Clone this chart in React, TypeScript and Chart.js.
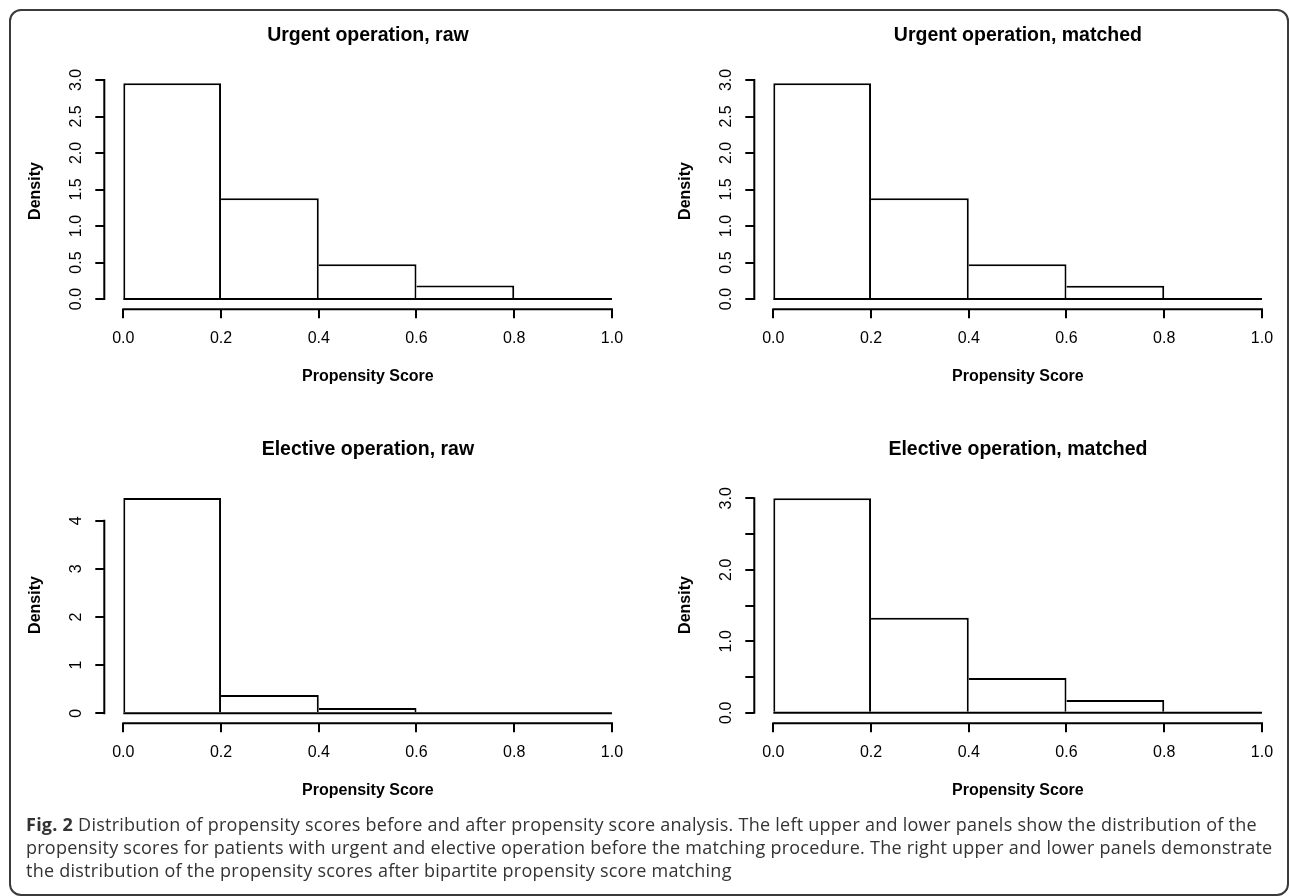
import React, { useEffect, useRef } from 'react';
import { Chart, registerables } from 'chart.js';

Chart.register(...registerables);
Chart.defaults.font.family = '"Liberation Sans", Arial, Helvetica, sans-serif';
Chart.defaults.color = '#000';

// ---- data ----
const binEdges = [0, 0.2, 0.4, 0.6, 0.8, 1.0];
const xTicks = [0, 0.2, 0.4, 0.6, 0.8, 1.0];
const xTickLabels = ['0.0', '0.2', '0.4', '0.6', '0.8', '1.0'];

const urgentRawDensity = [2.955, 1.38, 0.475, 0.185, 0];
const urgentMatchedDensity = [2.955, 1.38, 0.475, 0.183, 0];
const electiveRawDensity = [4.47, 0.38, 0.11, 0, 0];
const electiveMatchedDensity = [3.0, 1.33, 0.485, 0.18, 0];

const halfStepTicks = [0, 0.5, 1, 1.5, 2, 2.5, 3];
const halfStepLabels = ['0.0', '0.5', '1.0', '1.5', '2.0', '2.5', '3.0'];
const sparseHalfStepLabels = ['0.0', '', '1.0', '', '2.0', '', '3.0'];
const unitTicks = [0, 1, 2, 3, 4];
const unitLabels = ['0', '1', '2', '3', '4'];

const panelTitles = [
  'Urgent operation, raw',
  'Urgent operation, matched',
  'Elective operation, raw',
  'Elective operation, matched',
];
const xAxisTitle = 'Propensity Score';
const yAxisTitle = 'Density';

const captionLines = [
  'Distribution of propensity scores before and after propensity score analysis. The left upper and lower panels show the distribution of the',
  'propensity scores for patients with urgent and elective operation before the matching procedure. The right upper and lower panels demonstrate',
  'the distribution of the propensity scores after bipartite propensity score matching',
];

// ---- layout ----
const W = 640;
const H = 414;
const AREA_LEFT = 104.3;
const AREA_RIGHT = 631.5;
const AREA_BOTTOM = 309.3;

type PanelCfg = {
  title: string;
  values: number[];
  yTicks: number[];
  yLabels: string[];
  yMin: number;
  yMax: number;
  yTickPad: number;
  left: number;
  top: number;
};

const panels: PanelCfg[] = [
  { title: panelTitles[0], values: urgentRawDensity, yTicks: halfStepTicks, yLabels: halfStepLabels, yMin: -0.141, yMax: 3.1, yTickPad: 7.5, left: 0, top: 0 },
  { title: panelTitles[1], values: urgentMatchedDensity, yTicks: halfStepTicks, yLabels: halfStepLabels, yMin: -0.141, yMax: 3.1, yTickPad: 7.5, left: 650, top: 0 },
  { title: panelTitles[2], values: electiveRawDensity, yTicks: unitTicks, yLabels: unitLabels, yMin: -0.2077, yMax: 4.706, yTickPad: 14.5, left: 0, top: 414 },
  { title: panelTitles[3], values: electiveMatchedDensity, yTicks: halfStepTicks, yLabels: sparseHalfStepLabels, yMin: -0.147, yMax: 3.162, yTickPad: 7.5, left: 650, top: 414 },
];

function makeAxesPlugin(cfg: PanelCfg) {
  return {
    id: 'rAxes',
    afterDatasetsDraw(chart: any) {
      const { ctx, chartArea } = chart;
      const x = chart.scales.x;
      const y = chart.scales.y;
      ctx.save();
      ctx.strokeStyle = '#000';
      ctx.lineWidth = 2;
      ctx.lineCap = 'square';
      ctx.beginPath();
      // x axis line spanning first..last tick
      ctx.moveTo(x.getPixelForValue(xTicks[0]), chartArea.bottom);
      ctx.lineTo(x.getPixelForValue(xTicks[xTicks.length - 1]), chartArea.bottom);
      // y axis line spanning first..last tick
      ctx.moveTo(chartArea.left, y.getPixelForValue(cfg.yTicks[0]));
      ctx.lineTo(chartArea.left, y.getPixelForValue(cfg.yTicks[cfg.yTicks.length - 1]));
      ctx.stroke();
      // histogram baseline (zero-height bins included)
      ctx.lineCap = 'butt';
      ctx.beginPath();
      ctx.moveTo(x.getPixelForValue(binEdges[0]), y.getPixelForValue(0));
      ctx.lineTo(x.getPixelForValue(binEdges[binEdges.length - 1]), y.getPixelForValue(0));
      ctx.stroke();
      ctx.restore();
    },
  };
}

function Panel({ cfg }: { cfg: PanelCfg }) {
  const ref = useRef<HTMLCanvasElement | null>(null);
  useEffect(() => {
    if (!ref.current) return;
    const values = cfg.values;
    const data = values.map((v, i) => ({ x: (binEdges[i] + binEdges[i + 1]) / 2, y: v }));
    const chart = new Chart(ref.current, {
      type: 'bar',
      data: {
        datasets: [
          {
            data: data as any,
            backgroundColor: '#ffffff',
            borderColor: '#000000',
            borderWidth: ((c: any) => ({
              top: 2,
              right: 2,
              bottom: 0,
              left: c.dataIndex === 0 ? 2 : 0,
            })) as any,
            borderSkipped: false,
            barPercentage: 1,
            categoryPercentage: 1,
            inflateAmount: 0,
          } as any,
        ],
      },
      options: {
        responsive: false,
        animation: false,
        events: [],
        layout: { padding: { left: 0, top: 0, right: W - AREA_RIGHT, bottom: 0 } },
        plugins: {
          legend: { display: false },
          tooltip: { enabled: false },
          title: {
            display: true,
            text: cfg.title,
            fullSize: false,
            color: '#000',
            font: { size: 19.5, weight: 'bold' },
            padding: { top: 23.8, bottom: 25.5 },
          },
        },
        scales: {
          x: {
            type: 'linear',
            position: 'bottom',
            min: -0.0389,
            max: 1.04,
            offset: false,
            afterBuildTicks: (s: any) => {
              s.ticks = xTicks.map((v) => ({ value: v }));
            },
            afterFit: (s: any) => {
              s.height = H - AREA_BOTTOM;
            },
            grid: {
              offset: false,
              drawOnChartArea: false,
              drawTicks: true,
              tickLength: 9,
              color: '#000',
              lineWidth: 2,
            },
            border: { display: false },
            ticks: {
              callback: (_v: any, i: number) => xTickLabels[i],
              color: '#000',
              font: { size: 16 },
              padding: 11,
              minRotation: 0,
              maxRotation: 0,
              autoSkip: false,
            },
            title: {
              display: true,
              text: xAxisTitle,
              color: '#000',
              font: { size: 16, weight: 'bold' },
              padding: { top: 0, bottom: 27.4 },
            },
          },
          y: {
            type: 'linear',
            position: 'left',
            min: cfg.yMin,
            max: cfg.yMax,
            afterBuildTicks: (s: any) => {
              s.ticks = cfg.yTicks.map((v) => ({ value: v }));
            },
            afterFit: (s: any) => {
              s.width = AREA_LEFT;
            },
            grid: {
              drawOnChartArea: false,
              drawTicks: true,
              tickLength: 9,
              color: '#000',
              lineWidth: 2,
            },
            border: { display: false },
            ticks: {
              callback: (_v: any, i: number) => cfg.yLabels[i],
              color: '#000',
              font: { size: 16 },
              padding: cfg.yTickPad,
              minRotation: 90,
              maxRotation: 90,
              crossAlign: 'center',
              autoSkip: false,
            },
            title: {
              display: true,
              text: yAxisTitle,
              color: '#000',
              font: { size: 16, weight: 'bold' },
              padding: { top: 26.4, bottom: 0 },
            },
          },
        },
      } as any,
      plugins: [makeAxesPlugin(cfg)],
    });
    return () => chart.destroy();
  }, [cfg]);
  return (
    <canvas
      ref={ref}
      width={W}
      height={H}
      style={{ position: 'absolute', left: cfg.left, top: cfg.top, width: W, height: H }}
    />
  );
}

export default function App() {
  return (
    <div
      style={{
        position: 'absolute',
        left: 0,
        top: 0,
        width: 1290,
        height: 896,
        background: '#fff',
        overflow: 'hidden',
      }}
    >
      <div
        style={{
          position: 'absolute',
          left: 9,
          top: 9,
          width: 1276,
          height: 883,
          border: '2px solid #3a3a3a',
          borderRadius: 12,
        }}
      />
      {panels.map((p, i) => (
        <Panel key={i} cfg={p} />
      ))}
      <div
        style={{
          position: 'absolute',
          left: 26,
          top: 813,
          fontFamily: '"Open Sans", "Noto Sans", sans-serif',
          fontSize: 18,
          letterSpacing: '0.25px',
          lineHeight: '23px',
          color: '#333',
          whiteSpace: 'nowrap',
        }}
      >
        <div>
          <b>Fig. 2</b> {captionLines[0]}
        </div>
        <div>{captionLines[1]}</div>
        <div>{captionLines[2]}</div>
      </div>
    </div>
  );
}
